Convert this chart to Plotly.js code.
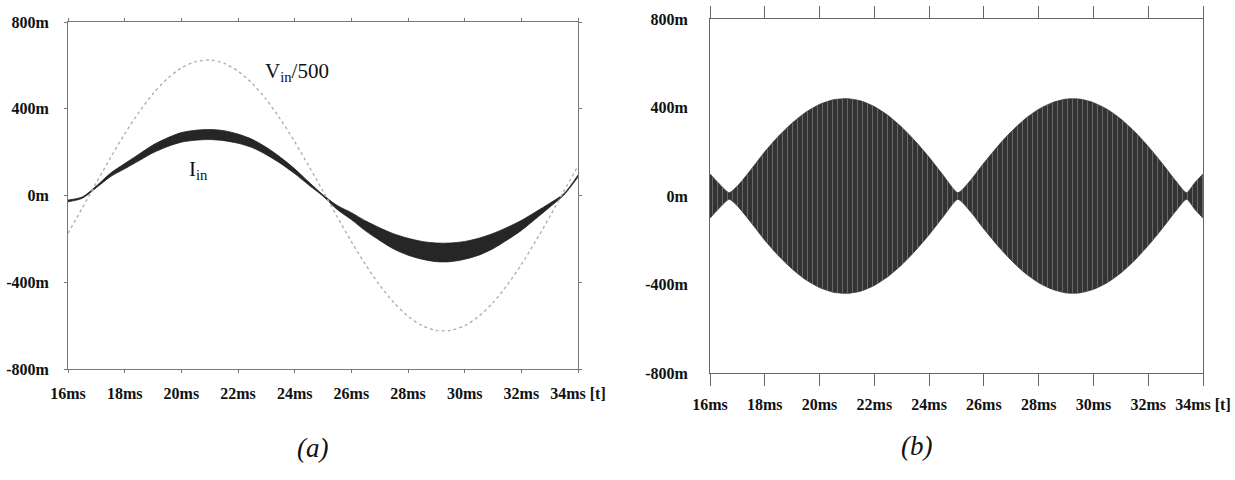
<!DOCTYPE html>
<html>
<head>
<meta charset="utf-8">
<script src="https://cdn.plot.ly/plotly-3.0.1.min.js"></script>
<style>html,body{margin:0;padding:0;background:#fff;}#chart{width:1235px;height:480px;}</style>
</head>
<body>
<div id="chart"></div>
<script>
// ---------- Panel (a) data ----------
const tA = [16.0,16.5,17.0,17.5,18.0,18.5,19.0,19.5,20.0,20.5,21.0,21.5,22.0,22.5,23.0,23.5,24.0,24.5,25.0,25.5,26.0,26.5,27.0,27.5,28.0,28.5,29.0,29.5,30.0,30.5,31.0,31.5,32.0,32.5,33.0,33.5,34.0];
// V_in / 500 (mV-scaled "m" units)
const vinA = [-174,-59,59,174,284,383,469,538,588,617,625,610,573,517,442,351,248,136,20,-98,-212,-318,-413,-494,-557,-600,-622,-622,-600,-557,-494,-413,-318,-212,-98,20,136];
// I_in band: upper and lower edges
const iinUpper = [-21,-7,44,103,147,190,233,265,290,301,304,299,283,259,222,176,123,62,3,-46,-79,-117,-149,-177,-197,-212,-219,-219,-212,-197,-175,-147,-115,-76,-36,8,95];
const iinLower = [-29,-13,36,87,123,160,197,225,246,255,258,253,241,221,188,148,101,48,-3,-64,-111,-163,-207,-247,-275,-294,-305,-305,-294,-275,-245,-205,-161,-108,-54,2,85];

// ---------- Panel (b) data ----------
const tB = [16.0,16.3,16.7,17.0,17.5,18.0,18.5,19.0,19.5,20.0,20.5,21.0,21.5,22.0,22.5,23.0,23.5,24.0,24.5,25.05,25.5,26.0,26.5,27.0,27.5,28.0,28.5,29.0,29.5,30.0,30.5,31.0,31.5,32.0,32.5,33.0,33.4,33.7,34.0];
const envUpper = [100,60,15,45,120,200,270,330,379,414,435,440,430,404,364,311,247,175,96,15,69,149,224,291,348,392,422,438,438,422,392,348,291,224,149,69,15,60,100];
const envLower = [-100,-60,-15,-45,-120,-200,-270,-330,-379,-414,-435,-440,-430,-404,-364,-311,-247,-175,-96,-15,-69,-149,-224,-291,-348,-392,-422,-438,-438,-422,-392,-348,-291,-224,-149,-69,-15,-60,-100];

// ---------- Axis ticks ----------
const xTickVals = [16,18,20,22,24,26,28,30,32,34];
const xTickText = ["16ms","18ms","20ms","22ms","24ms","26ms","28ms","30ms","32ms","34ms [t]"];
const yTickVals = [800,400,0,-400,-800];
const yTickText = ["800m","400m","0m","-400m","-800m"];

const traces = [
  {x:tA, y:iinLower, xaxis:'x', yaxis:'y', mode:'lines', line:{color:'#222', width:0.8, shape:'spline', smoothing:0.8}, hoverinfo:'skip', showlegend:false},
  {x:tA, y:iinUpper, xaxis:'x', yaxis:'y', mode:'lines', fill:'tonexty', fillcolor:'#262626', line:{color:'#222', width:0.8, shape:'spline', smoothing:0.8}, hoverinfo:'skip', showlegend:false},
  {x:tA, y:vinA, xaxis:'x', yaxis:'y', mode:'lines', line:{color:'#b0b0b0', width:1.4, dash:'dot', shape:'spline', smoothing:0.8}, hoverinfo:'skip', showlegend:false},
  {x:tB, y:envLower, xaxis:'x2', yaxis:'y2', mode:'lines', line:{color:'#3a3a3a', width:0.8, shape:'spline', smoothing:0.6}, hoverinfo:'skip', showlegend:false},
  {x:tB, y:envUpper, xaxis:'x2', yaxis:'y2', mode:'lines', fill:'tonexty', fillcolor:'#3a3a3a',
   fillpattern:{shape:'|', bgcolor:'#333333', fgcolor:'#6e6e6e', size:5, solidity:0.18},
   line:{color:'#3a3a3a', width:0.8, shape:'spline', smoothing:0.6}, hoverinfo:'skip', showlegend:false}
];

const tickFont = {family:'Liberation Serif', size:16, color:'#111', weight:'bold'};

const layout = {
  width:1235, height:480,
  margin:{l:0, r:0, t:0, b:0},
  paper_bgcolor:'#fff', plot_bgcolor:'#fff',
  showlegend:false,
  xaxis:{domain:[68/1235, 578/1235], range:[16,34], anchor:'y',
    tickmode:'array', tickvals:xTickVals, ticktext:xTickText, tickfont:tickFont,
    ticks:'outside', ticklen:3, tickcolor:'#777', tickwidth:1,
    showline:true, linecolor:'#777', linewidth:1, mirror:'allticks',
    showgrid:false, zeroline:false, ticklabelstandoff:7, fixedrange:true},
  yaxis:{domain:[(480-369)/480, (480-22)/480], range:[-800,800], anchor:'x',
    tickmode:'array', tickvals:yTickVals, ticktext:yTickText, tickfont:tickFont,
    ticks:'outside', ticklen:3, tickcolor:'#777', tickwidth:1,
    showline:true, linecolor:'#777', linewidth:1, mirror:'allticks',
    showgrid:false, zeroline:false, ticklabelstandoff:12, fixedrange:true},
  xaxis3:{overlaying:'x', anchor:'y', range:[16,34], tickmode:'array', tickvals:xTickVals,
    ticks:'inside', ticklen:3, tickcolor:'#777', tickwidth:1, mirror:'allticks',
    showline:false, showgrid:false, zeroline:false, showticklabels:false, fixedrange:true},
  yaxis3:{overlaying:'y', anchor:'x', range:[-800,800], tickmode:'array', tickvals:yTickVals,
    ticks:'inside', ticklen:3, tickcolor:'#777', tickwidth:1, mirror:'allticks',
    showline:false, showgrid:false, zeroline:false, showticklabels:false, fixedrange:true},

  xaxis2:{domain:[710/1235, 1203/1235], range:[16,34], anchor:'y2',
    tickmode:'array', tickvals:xTickVals, ticktext:xTickText, tickfont:tickFont,
    ticks:'outside', ticklen:12, tickcolor:'#666', tickwidth:1,
    showline:true, linecolor:'#666', linewidth:1, mirror:'allticks',
    showgrid:false, zeroline:false, ticklabelstandoff:5, fixedrange:true},
  yaxis2:{domain:[(480-373)/480, (480-19)/480], range:[-800,800], anchor:'x2',
    tickmode:'array', tickvals:yTickVals, ticktext:yTickText, tickfont:tickFont,
    ticks:'', showline:true, linecolor:'#666', linewidth:1, mirror:true,
    showgrid:false, zeroline:false, ticklabelstandoff:18, fixedrange:true},
  xaxis4:{overlaying:'x2', anchor:'y2', range:[16,34], tickmode:'array', tickvals:xTickVals,
    ticks:'inside', ticklen:12, tickcolor:'#666', tickwidth:1, mirror:'allticks',
    showline:false, showgrid:false, zeroline:false, showticklabels:false, fixedrange:true},

  annotations:[
    {xref:'x', yref:'y', x:24.08, y:569, text:'V<sub>in</sub>/500', showarrow:false,
     font:{family:'Liberation Serif', size:21, color:'#111'}},
    {xref:'x', yref:'y', x:20.59, y:118, text:'I<sub>in</sub>', showarrow:false,
     font:{family:'Liberation Serif', size:21, color:'#111'}},
    {xref:'paper', yref:'paper', x:295/1235, y:(480-465)/480, text:'(a)', showarrow:false,
     font:{family:'Liberation Serif', size:27, color:'#111', style:'italic'}},
    {xref:'paper', yref:'paper', x:934/1235, y:(480-463)/480, text:'(b)', showarrow:false,
     font:{family:'Liberation Serif', size:27, color:'#111', style:'italic'}}
  ]
};

Plotly.newPlot('chart', traces, layout, {staticPlot:true, displayModeBar:false});
</script>
</body>
</html>
